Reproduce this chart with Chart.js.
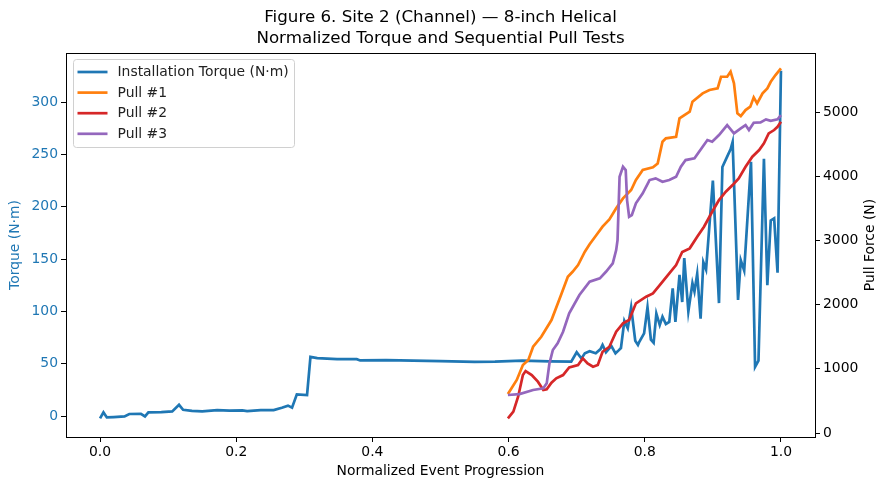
<!DOCTYPE html>
<html>
<head>
<meta charset="utf-8">
<script src="https://cdn.jsdelivr.net/npm/chart.js@4.4.1/dist/chart.umd.min.js"></script>
<style>
  html, body { margin: 0; background: #fff; }
  #wrap { width: 889px; height: 489px; }
</style>
</head>
<body>
<div id="wrap"><canvas id="chart"></canvas></div>
<script>
// data
const titleLines = ['Figure 6. Site 2 (Channel) \u2014 8-inch Helical', 'Normalized Torque and Sequential Pull Tests'];
const xTicks = [0, 0.2, 0.4, 0.6, 0.8, 1.0];
const torqueTicks = [0, 50, 100, 150, 200, 250, 300];
const pullTicks = [0, 1000, 2000, 3000, 4000, 5000];

const torqueX = [0.000, 0.005, 0.010, 0.020, 0.036, 0.043, 0.060, 0.066, 0.071, 0.090, 0.106, 0.116, 0.122, 0.135, 0.150,
  0.172, 0.190, 0.209, 0.216, 0.236, 0.255, 0.267, 0.276, 0.282, 0.289, 0.304, 0.309, 0.319, 0.348, 0.377, 0.382,
  0.420, 0.460, 0.500, 0.550, 0.580, 0.620, 0.660, 0.692, 0.700, 0.707, 0.712, 0.719, 0.728, 0.735, 0.738, 0.743,
  0.751, 0.757, 0.762, 0.765, 0.770, 0.775, 0.780, 0.786, 0.790, 0.792, 0.799, 0.804, 0.809, 0.813, 0.817, 0.822,
  0.826, 0.831, 0.836, 0.841, 0.845, 0.851, 0.855, 0.858, 0.864, 0.870, 0.873, 0.877, 0.882, 0.886, 0.890, 0.900,
  0.909, 0.914, 0.921, 0.926, 0.929, 0.937, 0.941, 0.946, 0.956, 0.962, 0.967, 0.975, 0.980, 0.985, 0.990, 0.995, 1.000];
const torqueY = [-2.2, 3.5, -1.3, -1.0, -0.3, 2.0, 2.2, -0.3, 3.5, 3.8, 4.5, 10.8, 6.0, 5.0, 4.5,
  5.7, 5.2, 5.4, 4.8, 5.7, 5.7, 8.0, 10.0, 8.0, 20.7, 20.0, 56.6, 55.4, 54.4, 54.4, 53.2,
  53.4, 53.0, 52.6, 51.8, 52.0, 53.0, 52.3, 52.0, 61.0, 55.0, 60.0, 62.0, 60.0, 64.0, 68.0, 61.0,
  67.0, 60.0, 63.0, 65.0, 91.0, 84.0, 104.0, 72.0, 68.0, 71.0, 79.0, 104.0, 73.0, 70.0, 98.0, 87.0,
  95.0, 88.0, 90.0, 122.0, 90.0, 135.0, 109.0, 151.0, 100.0, 127.0, 119.0, 136.0, 93.0, 147.0, 140.0, 225.0,
  108.0, 238.0, 248.0, 255.0, 262.0, 111.0, 149.0, 139.0, 243.0, 47.0, 53.0, 246.0, 125.0, 187.0, 189.0, 137.0, 330.0];

const pull1X = [0.599, 0.612, 0.621, 0.629, 0.636, 0.648, 0.663, 0.677, 0.687, 0.694, 0.702, 0.712, 0.719, 0.729, 0.738,
  0.748, 0.758, 0.768, 0.780, 0.787, 0.797, 0.812, 0.819, 0.826, 0.831, 0.846, 0.851, 0.866, 0.870, 0.885, 0.895,
  0.907, 0.912, 0.921, 0.926, 0.931, 0.936, 0.941, 0.948, 0.955, 0.960, 0.965, 0.973, 0.980, 0.985, 0.992, 1.000];
const pull1Y = [607, 826, 1059, 1137, 1344, 1500, 1760, 2150, 2435, 2512, 2617, 2824, 2940, 3084, 3214,
  3328, 3500, 3655, 3785, 3941, 4097, 4138, 4200, 4537, 4590, 4615, 4901, 5005, 5161, 5291, 5343,
  5369, 5550, 5550, 5628, 5447, 4980, 4938, 5031, 5083, 5229, 5135, 5291, 5369, 5472, 5576, 5680];

const pull2X = [0.599, 0.607, 0.614, 0.621, 0.625, 0.634, 0.643, 0.651, 0.656, 0.663, 0.670, 0.680, 0.689, 0.702, 0.709,
  0.716, 0.724, 0.731, 0.738, 0.748, 0.758, 0.768, 0.777, 0.787, 0.802, 0.812, 0.822, 0.836, 0.846, 0.855, 0.866,
  0.877, 0.887, 0.899, 0.909, 0.919, 0.929, 0.938, 0.948, 0.958, 0.968, 0.975, 0.982, 0.990, 0.995, 1.000];
const pull2Y = [229, 332, 565, 903, 966, 903, 800, 670, 680, 784, 852, 903, 1023, 1059, 1163,
  1085, 1033, 1059, 1266, 1344, 1578, 1708, 1760, 2020, 2123, 2176, 2305, 2488, 2617, 2820, 2877,
  3058, 3213, 3447, 3629, 3759, 3863, 3967, 4148, 4304, 4408, 4512, 4668, 4720, 4771, 4849];

const pull3X = [0.599, 0.616, 0.636, 0.651, 0.656, 0.660, 0.665, 0.672, 0.680, 0.689, 0.704, 0.719, 0.734, 0.743, 0.753,
  0.758, 0.760, 0.763, 0.768, 0.772, 0.774, 0.777, 0.781, 0.787, 0.797, 0.807, 0.816, 0.826, 0.836, 0.846, 0.853,
  0.860, 0.873, 0.885, 0.892, 0.899, 0.909, 0.921, 0.931, 0.941, 0.948, 0.953, 0.960, 0.970, 0.978, 0.985, 0.995, 1.000];
const pull3Y = [592, 607, 670, 696, 774, 1085, 1293, 1397, 1578, 1864, 2150, 2357, 2410, 2512, 2643,
  2850, 3006, 3992, 4148, 4097, 3629, 3369, 3396, 3578, 3734, 3941, 3967, 3915, 3941, 3992, 4148,
  4252, 4279, 4460, 4564, 4538, 4642, 4798, 4668, 4746, 4798, 4720, 4834, 4840, 4886, 4864, 4886, 4953];

const FONT = '"DejaVu Sans", sans-serif';
const FS = 13.9;
const pts = (xs, ys) => xs.map((x, i) => ({ x: x, y: ys[i] }));

function line(label, xs, ys, color, axis, order) {
  return {
    label: label,
    data: pts(xs, ys),
    borderColor: color,
    backgroundColor: color,
    borderWidth: 2.7,
    pointRadius: 0,
    tension: 0,
    yAxisID: axis,
    order: order
  };
}

// frame, title, right axis title and legend box
const extras = {
  id: 'extras',
  afterDraw(chart) {
    const ctx = chart.ctx, a = chart.chartArea;
    ctx.save();
    ctx.strokeStyle = '#000';
    ctx.lineWidth = 1;
    ctx.strokeRect(Math.round(a.left) + 0.5, Math.round(a.top) + 0.5,
      Math.round(a.right - a.left), Math.round(a.bottom - a.top));

    ctx.fillStyle = '#000';
    ctx.textAlign = 'center';
    ctx.textBaseline = 'middle';
    ctx.font = '16.7px ' + FONT;
    titleLines.forEach((t, i) => ctx.fillText(t, (a.left + a.right) / 2, 18 + i * 21));

    ctx.save();
    ctx.translate(870, (a.top + a.bottom) / 2);
    ctx.rotate(-Math.PI / 2);
    ctx.font = FS + 'px ' + FONT;
    ctx.fillText('Pull Force (N)', 0, 0);
    ctx.restore();

    // legend
    const bx = a.left + 7.5, by = a.top + 6.5, bw = 221, bh = 88, r = 3;
    ctx.beginPath();
    ctx.moveTo(bx + r, by);
    ctx.arcTo(bx + bw, by, bx + bw, by + bh, r);
    ctx.arcTo(bx + bw, by + bh, bx, by + bh, r);
    ctx.arcTo(bx, by + bh, bx, by, r);
    ctx.arcTo(bx, by, bx + bw, by, r);
    ctx.closePath();
    ctx.fillStyle = 'rgba(255,255,255,0.8)';
    ctx.fill();
    ctx.strokeStyle = '#d0d0d0';
    ctx.stroke();

    ctx.font = FS + 'px ' + FONT;
    ctx.textAlign = 'left';
    chart.data.datasets.forEach((ds, i) => {
      const yy = by + 12.5 + i * 20.6;
      ctx.strokeStyle = ds.borderColor;
      ctx.lineWidth = 2.7;
      ctx.beginPath();
      ctx.moveTo(bx + 4, yy);
      ctx.lineTo(bx + 34, yy);
      ctx.stroke();
      ctx.fillStyle = '#222';
      ctx.fillText(ds.label, bx + 44, yy + 0.5);
    });
    ctx.restore();
  }
};

const tickGrid = { drawOnChartArea: false, drawTicks: true, tickLength: 5, color: '#000', lineWidth: 1 };

new Chart(document.getElementById('chart'), {
  type: 'line',
  data: {
    datasets: [
      line('Installation Torque (N\u00b7m)', torqueX, torqueY, '#1f77b4', 'y', 4),
      line('Pull #1', pull1X, pull1Y, '#ff7f0e', 'y1', 3),
      line('Pull #2', pull2X, pull2Y, '#d62728', 'y1', 2),
      line('Pull #3', pull3X, pull3Y, '#9467bd', 'y1', 1)
    ]
  },
  options: {
    responsive: true,
    maintainAspectRatio: false,
    animation: false,
    layout: { padding: { top: 53, left: 0, right: 0, bottom: 0 } },
    plugins: { legend: { display: false }, tooltip: { enabled: false }, title: { display: false } },
    scales: {
      x: {
        type: 'linear',
        min: -0.05,
        max: 1.05,
        afterBuildTicks: s => { s.ticks = xTicks.map(v => ({ value: v })); },
        afterFit: s => { s.height = 52; },
        grid: tickGrid,
        border: { display: false },
        ticks: { color: '#000', font: { family: FONT, size: FS }, padding: 2, maxRotation: 0,
          callback: v => Number(v).toFixed(1) },
        title: { display: true, text: 'Normalized Event Progression', color: '#000',
          font: { family: FONT, size: FS }, padding: { top: 0, bottom: 9 } }
      },
      y: {
        type: 'linear',
        position: 'left',
        min: -20,
        max: 347,
        afterBuildTicks: s => { s.ticks = torqueTicks.map(v => ({ value: v })); },
        afterFit: s => { s.width = 66; },
        grid: tickGrid,
        border: { display: false },
        ticks: { color: '#1f77b4', font: { family: FONT, size: FS }, padding: 3, callback: v => String(v) },
        title: { display: true, text: 'Torque (N\u00b7m)', color: '#1f77b4',
          font: { family: FONT, size: FS }, padding: { top: 7, bottom: 0 } }
      },
      y1: {
        type: 'linear',
        position: 'right',
        min: -62,
        max: 5920,
        afterBuildTicks: s => { s.ticks = pullTicks.map(v => ({ value: v })); },
        afterFit: s => { s.width = 74; },
        grid: tickGrid,
        border: { display: false },
        ticks: { color: '#000', font: { family: FONT, size: FS }, padding: 3, callback: v => String(v) }
      }
    }
  },
  plugins: [extras]
});
</script>
</body>
</html>
